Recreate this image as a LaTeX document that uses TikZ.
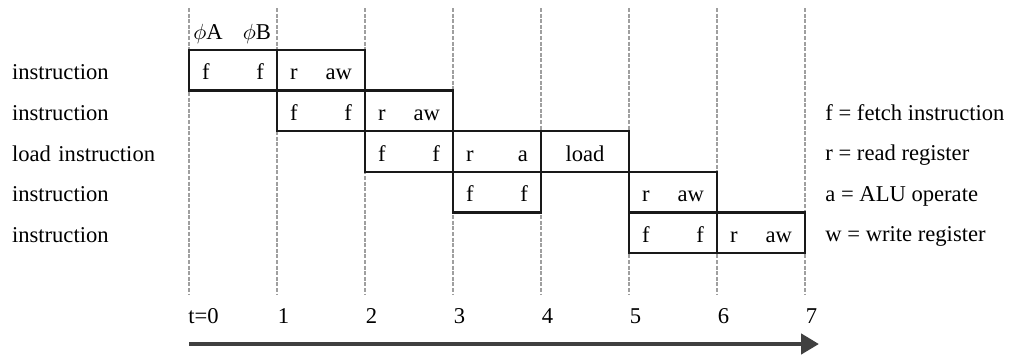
\documentclass[tikz,border=0pt]{standalone}
\usepackage{fontspec}
\setmainfont{Liberation Serif}
\usetikzlibrary{arrows.meta,positioning}

\tikzset{
  gridline/.style={draw=gray!75, line width=0.9pt, dash pattern=on 2pt off 0.8pt},
  stage/.style={draw=black!90, line width=1.2pt, minimum width=44pt, minimum height=20.3pt,
    text width=31pt, align=left, inner sep=0pt, text height=9.5pt, text depth=0pt},
  rowlabel/.style={text width=80pt, align=left, inner sep=0pt, text height=9.5pt, text depth=0pt},
  keytext/.style={anchor=base west, inner sep=0pt},
  timeline/.style={draw=black!75, line width=2.4pt, -{Triangle[length=9pt,width=10pt]}}
}

\begin{document}
\begin{tikzpicture}[x=0.5pt, y=-0.5pt, node distance=20.3pt,
  every node/.style={font=\fontsize{11.3}{13.6}\selectfont}]
\useasboundingbox (0,0) rectangle (1012,354);

% clock lines
\foreach \k in {0,...,7}{
  \coordinate (top\k) at ({189+88*\k},8);
  \coordinate (bot\k) at ({189+88*\k},295);
  \draw[gridline] (top\k) -- (bot\k);
}

% pipeline stages
\foreach \r/\c/\txt in {1/0/{f\hfill f}, 1/1/{r\hfill aw},
    2/1/{f\hfill f}, 2/2/{r\hfill aw},
    3/2/{f\hfill f}, 3/3/{r\hfill a\hspace*{3pt}},
    4/3/{f\hfill f}, 4/5/{r\hfill aw},
    5/5/{f\hfill f}, 5/6/{r\hfill aw}}
  \node[stage] (s\r\c) at ({233+88*\c},{50+40.6*(\r-0.5)}) {\txt};
\node[stage, align=center] (s34) at (585,151.5) {load};

% clock phases
\node[anchor=base, inner sep=0pt] (phiA) at (208,39) {$\phi$A};
\node[anchor=base, inner sep=0pt] (phiB) at (257,39) {$\phi$B};

% row labels
\node[rowlabel] (l1) at (92,70.3) {instruction};
\node[rowlabel] (l2) [below of=l1] {instruction};
\node[rowlabel] (l3) [below of=l2] {load instruction};
\node[rowlabel] (l4) [below of=l3] {instruction};
\node[rowlabel] (l5) [below of=l4] {instruction};

% key
\node[keytext] (kf) at (825,120) {f = fetch instruction};
\node[keytext] (kr) at (825,160.5) {r = read register};
\node[keytext] (ka) at (825,201) {a = ALU operate};
\node[keytext] (kw) at (825,241.5) {w = write register};

% time axis
\node[keytext] (t0) at (188,323) {t=0};
\foreach \k in {1,...,7}
  \node[keytext] (t\k) at ({189.5+88*\k},323) {\k};
\coordinate (tstart) at (189,344);
\coordinate (tend) at (819,344);
\draw[timeline] (tstart) -- (tend);
\end{tikzpicture}
\end{document}
